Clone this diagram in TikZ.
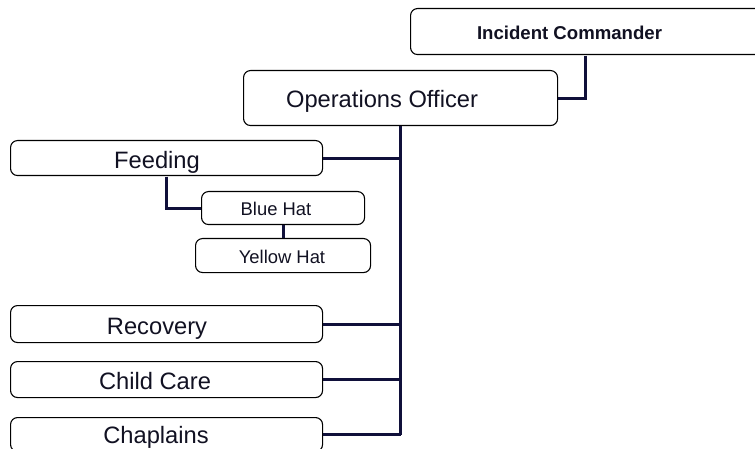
\documentclass[tikz,border=0pt]{standalone}
\usepackage{fontspec}
\setmainfont{Liberation Sans}
\definecolor{navy}{HTML}{10103A}
\definecolor{ink}{HTML}{111122}
\begin{document}
\begin{tikzpicture}[x=1pt,y=-1pt,
  box/.style={draw=black,line width=1.1pt,rounded corners=7pt,fill=white,anchor=north west,inner sep=0pt},
  conn/.style={draw=navy,line width=3pt},
  bigtxt/.style={font=\fontsize{23.7}{26}\selectfont,text=ink,inner sep=0pt,anchor=base},
  smalltxt/.style={font=\fontsize{18.4}{21}\selectfont,text=ink,inner sep=0pt,anchor=base},
  boldtxt/.style={font=\bfseries\fontsize{18.6}{21}\selectfont,text=ink,inner sep=0pt,anchor=base}]
\useasboundingbox (0,0) rectangle (755,449);
\clip (0,0) rectangle (755,449);
% boxes
\node[box,minimum width=400pt,minimum height=46pt] (ic) at (410,8) {};
\node[box,minimum width=314pt,minimum height=55pt] (ops) at (243,70) {};
\node[box,minimum width=312pt,minimum height=35pt] (feed) at (10,140) {};
\node[box,minimum width=163pt,minimum height=33pt] (blue) at (201,191) {};
\node[box,minimum width=175pt,minimum height=34pt] (yellow) at (195,238) {};
\node[box,minimum width=312pt,minimum height=37pt] (rec) at (10,305) {};
\node[box,minimum width=312pt,minimum height=36pt] (child) at (10,361) {};
\node[box,minimum width=312pt,minimum height=34pt] (chap) at (10,417) {};
% texts
\node[boldtxt] (icT) at (569.5,39.3) {Incident Commander};
\node[bigtxt] (opsT) at (382,107.5) {Operations Officer};
\node[bigtxt] (feedT) at (157,168.3) {Feeding};
\node[smalltxt] (blueT) at (276,216) {Blue Hat};
\node[smalltxt] (yellowT) at (282,263.3) {Yellow Hat};
\node[bigtxt] (recT) at (157,334.3) {Recovery};
\node[bigtxt] (childT) at (155,389.3) {Child Care};
\node[bigtxt] (chapT) at (156,443.8) {Chaplains};
% connectors
\draw[conn] (ic.south west) ++(175,0.5) |- (ops.east);
\draw[conn] (ops.south) -- (ops.south |- chap.east);
\draw[conn] (feed.east) -- (feed.east -| ops.south);
\draw[conn] (rec.east) -- (rec.east -| ops.south);
\draw[conn] (child.east) -- (child.east -| ops.south);
\draw[conn] (chap.east) -- (chap.east -| ops.south);
\draw[conn] (feed.south west) ++(156,0.5) |- (blue.west);
\draw[conn] (blue.south) -- (yellow.north);
\end{tikzpicture}
\end{document}
